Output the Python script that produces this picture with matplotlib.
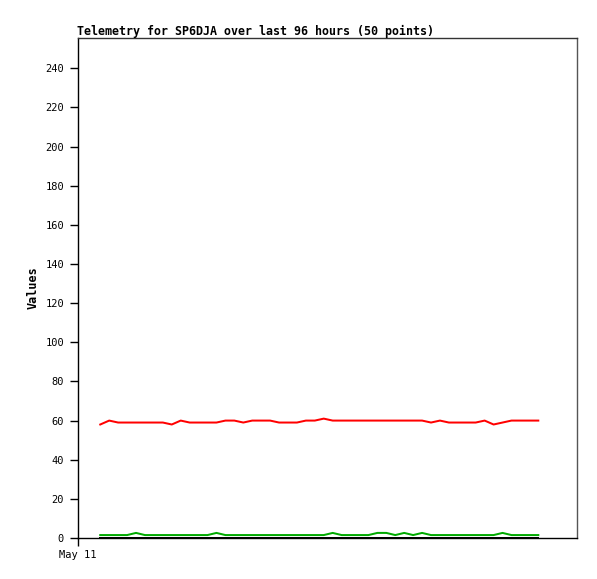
import matplotlib
matplotlib.use("Agg")
import matplotlib.pyplot as plt
import numpy as np

title = "Telemetry for SP6DJA over last 96 hours (50 points)"
ylabel = "Values"
xtick_labels = ["May 11"]
ytick_values = list(range(0, 241, 20))

red_values = [58, 60, 59, 59, 59, 59, 59, 59, 58, 60,
              59, 59, 59, 59, 60, 60, 59, 60, 60, 60,
              59, 59, 59, 60, 60, 61, 60, 60, 60, 60,
              60, 60, 60, 60, 60, 60, 60, 59, 60, 59,
              59, 59, 59, 60, 58, 59, 60, 60, 60, 60]
green_values = [1.5, 1.5, 1.5, 1.5, 2.6, 1.5, 1.5, 1.5, 1.5, 1.5,
                1.5, 1.5, 1.5, 2.6, 1.5, 1.5, 1.5, 1.5, 1.5, 1.5,
                1.5, 1.5, 1.5, 1.5, 1.5, 1.5, 2.6, 1.5, 1.5, 1.5,
                1.5, 2.6, 2.6, 1.5, 2.6, 1.5, 2.6, 1.5, 1.5, 1.5,
                1.5, 1.5, 1.5, 1.5, 1.5, 2.6, 1.5, 1.5, 1.5, 1.5]
black_values = [0] * 50

x = np.arange(len(red_values))

W, H = 597, 579
fig = plt.figure(figsize=(W / 100, H / 100), dpi=100)
ax = fig.add_axes([78 / W, 1 - 538 / H, (577 - 78) / W, (538 - 38) / H])

lw = 2 * 72 / 100
ax.plot(x, red_values, color="#ff0000", lw=lw)
ax.plot(x, green_values, color="#00aa00", lw=lw)
ax.plot(x, black_values, color="#000000", lw=lw, clip_on=False, zorder=5)

ax.set_xlim(-2.49, 53.33)
ax.set_ylim(0, 255.5)
ax.set_yticks(ytick_values)
ax.set_xticks([-2.49])
ax.set_xticklabels(xtick_labels)

mono = "DejaVu Sans Mono"
for lab in ax.get_yticklabels() + ax.get_xticklabels():
    lab.set_family(mono)
    lab.set_fontsize(7.5)
ax.tick_params(axis="both", direction="out", length=6, width=1, color="black", pad=4)
ax.tick_params(axis="x", pad=3)

ax.spines["left"].set_color("black")
ax.spines["bottom"].set_color("black")
ax.spines["top"].set_color("#333333")
ax.spines["right"].set_color("#555555")
for s in ax.spines.values():
    s.set_linewidth(1)

ax.set_ylabel(ylabel, family=mono, fontweight="bold", fontsize=8.5, labelpad=4)
ax.set_title(title, family=mono, fontweight="bold", fontsize=8.4, loc="left", pad=2, x=-0.003)

fig.savefig("out.png", dpi=100)
